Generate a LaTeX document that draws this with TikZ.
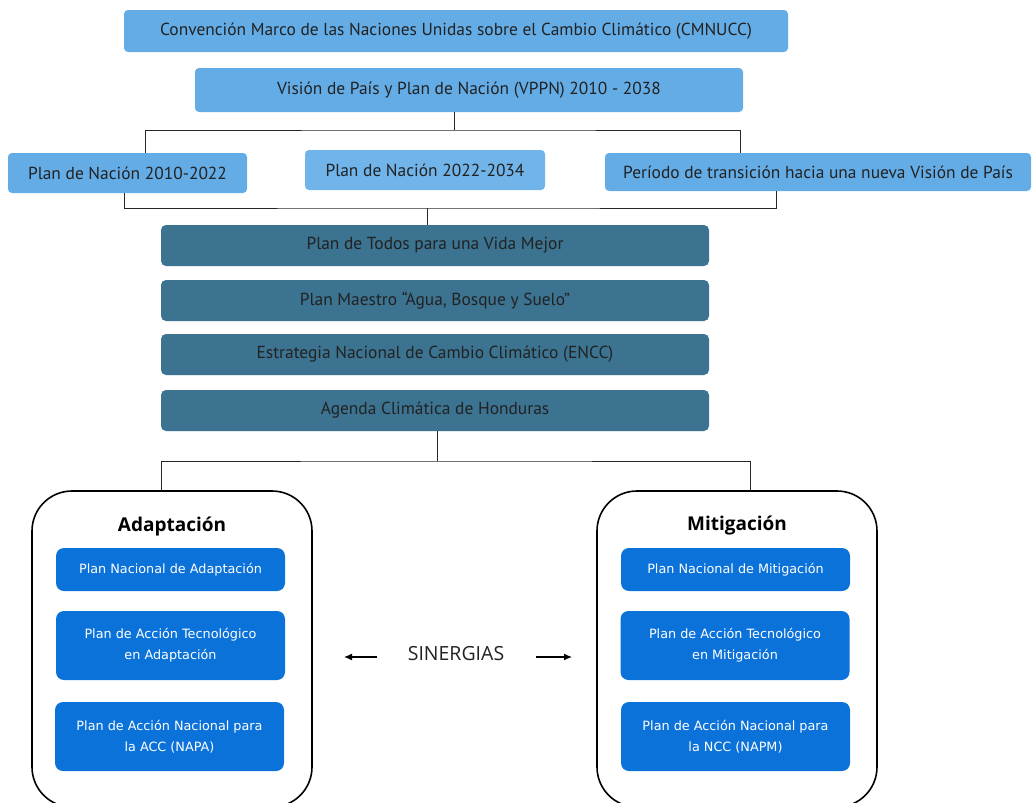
\documentclass[tikz,border=0pt]{standalone}
\usepackage{fontspec}
\setmainfont{PT Sans}
\newfontfamily\verdanaish{DejaVu Sans}
\newfontfamily\opensans{Open Sans}
\usetikzlibrary{arrows.meta}
\definecolor{lightblue}{HTML}{64ACE6}
\definecolor{lightblueb}{HTML}{70B4EA}
\definecolor{tealbox}{HTML}{3B7390}
\definecolor{innerblue}{HTML}{0B72DA}
\definecolor{txt}{HTML}{222222}
\tikzset{
  lb/.style={fill=lightblue, draw=none, rounded corners=4pt, inner sep=0pt, text=txt, font=\fontsize{17.4}{20}\selectfont},
  tealstyle/.style={fill=tealbox, draw=none, rounded corners=5pt, inner sep=0pt, text=txt, font=\fontsize{17.4}{20}\selectfont, minimum width=548pt, minimum height=41pt},
  bigbox/.style={draw=black, line width=1.6pt, rounded corners=40pt, fill=white, inner sep=0pt},
  ib/.style={fill=innerblue, draw=none, rounded corners=8pt, inner sep=0pt, text=white, align=center, font=\verdanaish\fontsize{12.8}{21}\selectfont, minimum width=229pt},
  conn/.style={draw=black!85, line width=1pt},
  ttl/.style={font=\opensans\bfseries\fontsize{19}{21}\selectfont, text=black},
}
\begin{document}
\begin{tikzpicture}[x=1pt,y=-1pt]
\useasboundingbox (0,0) rectangle (1034,803);
% top
\node[lb, minimum width=664pt, minimum height=42pt] (cm) at (456,31) {Convención Marco de las Naciones Unidas sobre el Cambio Climático (CMNUCC)};
\node[lb, minimum width=548pt, minimum height=44pt] (vp) at (469,90) {Visión de País y Plan de Nación (VPPN) 2010 - 2038};
\node[lb, minimum width=239pt, minimum height=40pt] (p1) at (127.5,173) {Plan de Nación 2010-2022};
\node[lb, fill=lightblueb, minimum width=240pt, minimum height=40pt] (p2) at (425,170) {Plan de Nación 2022-2034};
\node[lb, minimum width=426pt, minimum height=38pt] (p3) at (818,172) {Período de transición hacia una nueva Visión de País};
% connectors top
\coordinate (vpb) at (454,112);
\coordinate (h1) at (454,130);
\coordinate (p1t) at (145,153);
\coordinate (p3t) at (740,153);
\draw[conn] (vpb) -- (h1);
\draw[conn] (p1t) |- (h1) -| (p3t);
\coordinate (p1b) at (124,193);
\coordinate (p3b) at (776,191);
\coordinate (h2) at (427,208);
\coordinate (t1t) at (427,225);
\draw[conn] (p1b) |- (h2) -| (p3b);
\draw[conn] (h2) -- (t1t);
% teal
\node[tealstyle] (t1) at (435,245.5) {Plan de Todos para una Vida Mejor};
\node[tealstyle] (t2) at (435,300.5) {Plan Maestro “Agua, Bosque y Suelo”};
\node[tealstyle] (t3) at (435,354.5) {Estrategia Nacional de Cambio Climático (ENCC)};
\node[tealstyle] (t4) at (435,410.5) {Agenda Climática de Honduras};
% big boxes
\node[bigbox, minimum width=280pt, minimum height=316pt] (ad) at (172,649) {};
\node[bigbox, minimum width=280pt, minimum height=316pt] (mi) at (737,649) {};
\coordinate (t4b) at (437,431);
\coordinate (h3) at (437,461);
\coordinate (adt) at (161,491);
\coordinate (mit) at (750,491);
\draw[conn] (t4b) -- (h3);
\draw[conn] (adt) |- (h3) -| (mit);
% titles
\node[ttl] (adtl) at (172,526) {Adaptación};
\node[ttl] (mitl) at (737,525) {Mitigación};
% inner boxes left
\node[ib, minimum height=43pt] (a1) at (170.5,569.5) {Plan Nacional de Adaptación};
\node[ib, minimum height=69pt] (a2) at (170.5,645.5) {Plan de Acción Tecnológico\\en Adaptación};
\node[ib, minimum height=69pt] (a3) at (169.5,736.5) {Plan de Acción Nacional para\\la ACC (NAPA)};
% inner boxes right
\node[ib, minimum height=43pt] (m1) at (735.5,569.5) {Plan Nacional de Mitigación};
\node[ib, minimum height=69pt] (m2) at (735,645.5) {Plan de Acción Tecnológico\\en Mitigación};
\node[ib, minimum height=69pt] (m3) at (735.5,736.5) {Plan de Acción Nacional para\\la NCC (NAPM)};
% sinergias
\node[font=\opensans\fontsize{19.5}{21}\selectfont, text=txt] (sin) at (456,654) {SINERGIAS};
\coordinate (la) at (377,657);
\coordinate (lt) at (344,657);
\coordinate (ra) at (536,657);
\coordinate (rt) at (572,657);
\draw[line width=1.2pt, -{Latex[length=8pt,width=7pt]}] (la) -- (lt);
\draw[line width=1.2pt, -{Latex[length=8pt,width=7pt]}] (ra) -- (rt);
\end{tikzpicture}
\end{document}
